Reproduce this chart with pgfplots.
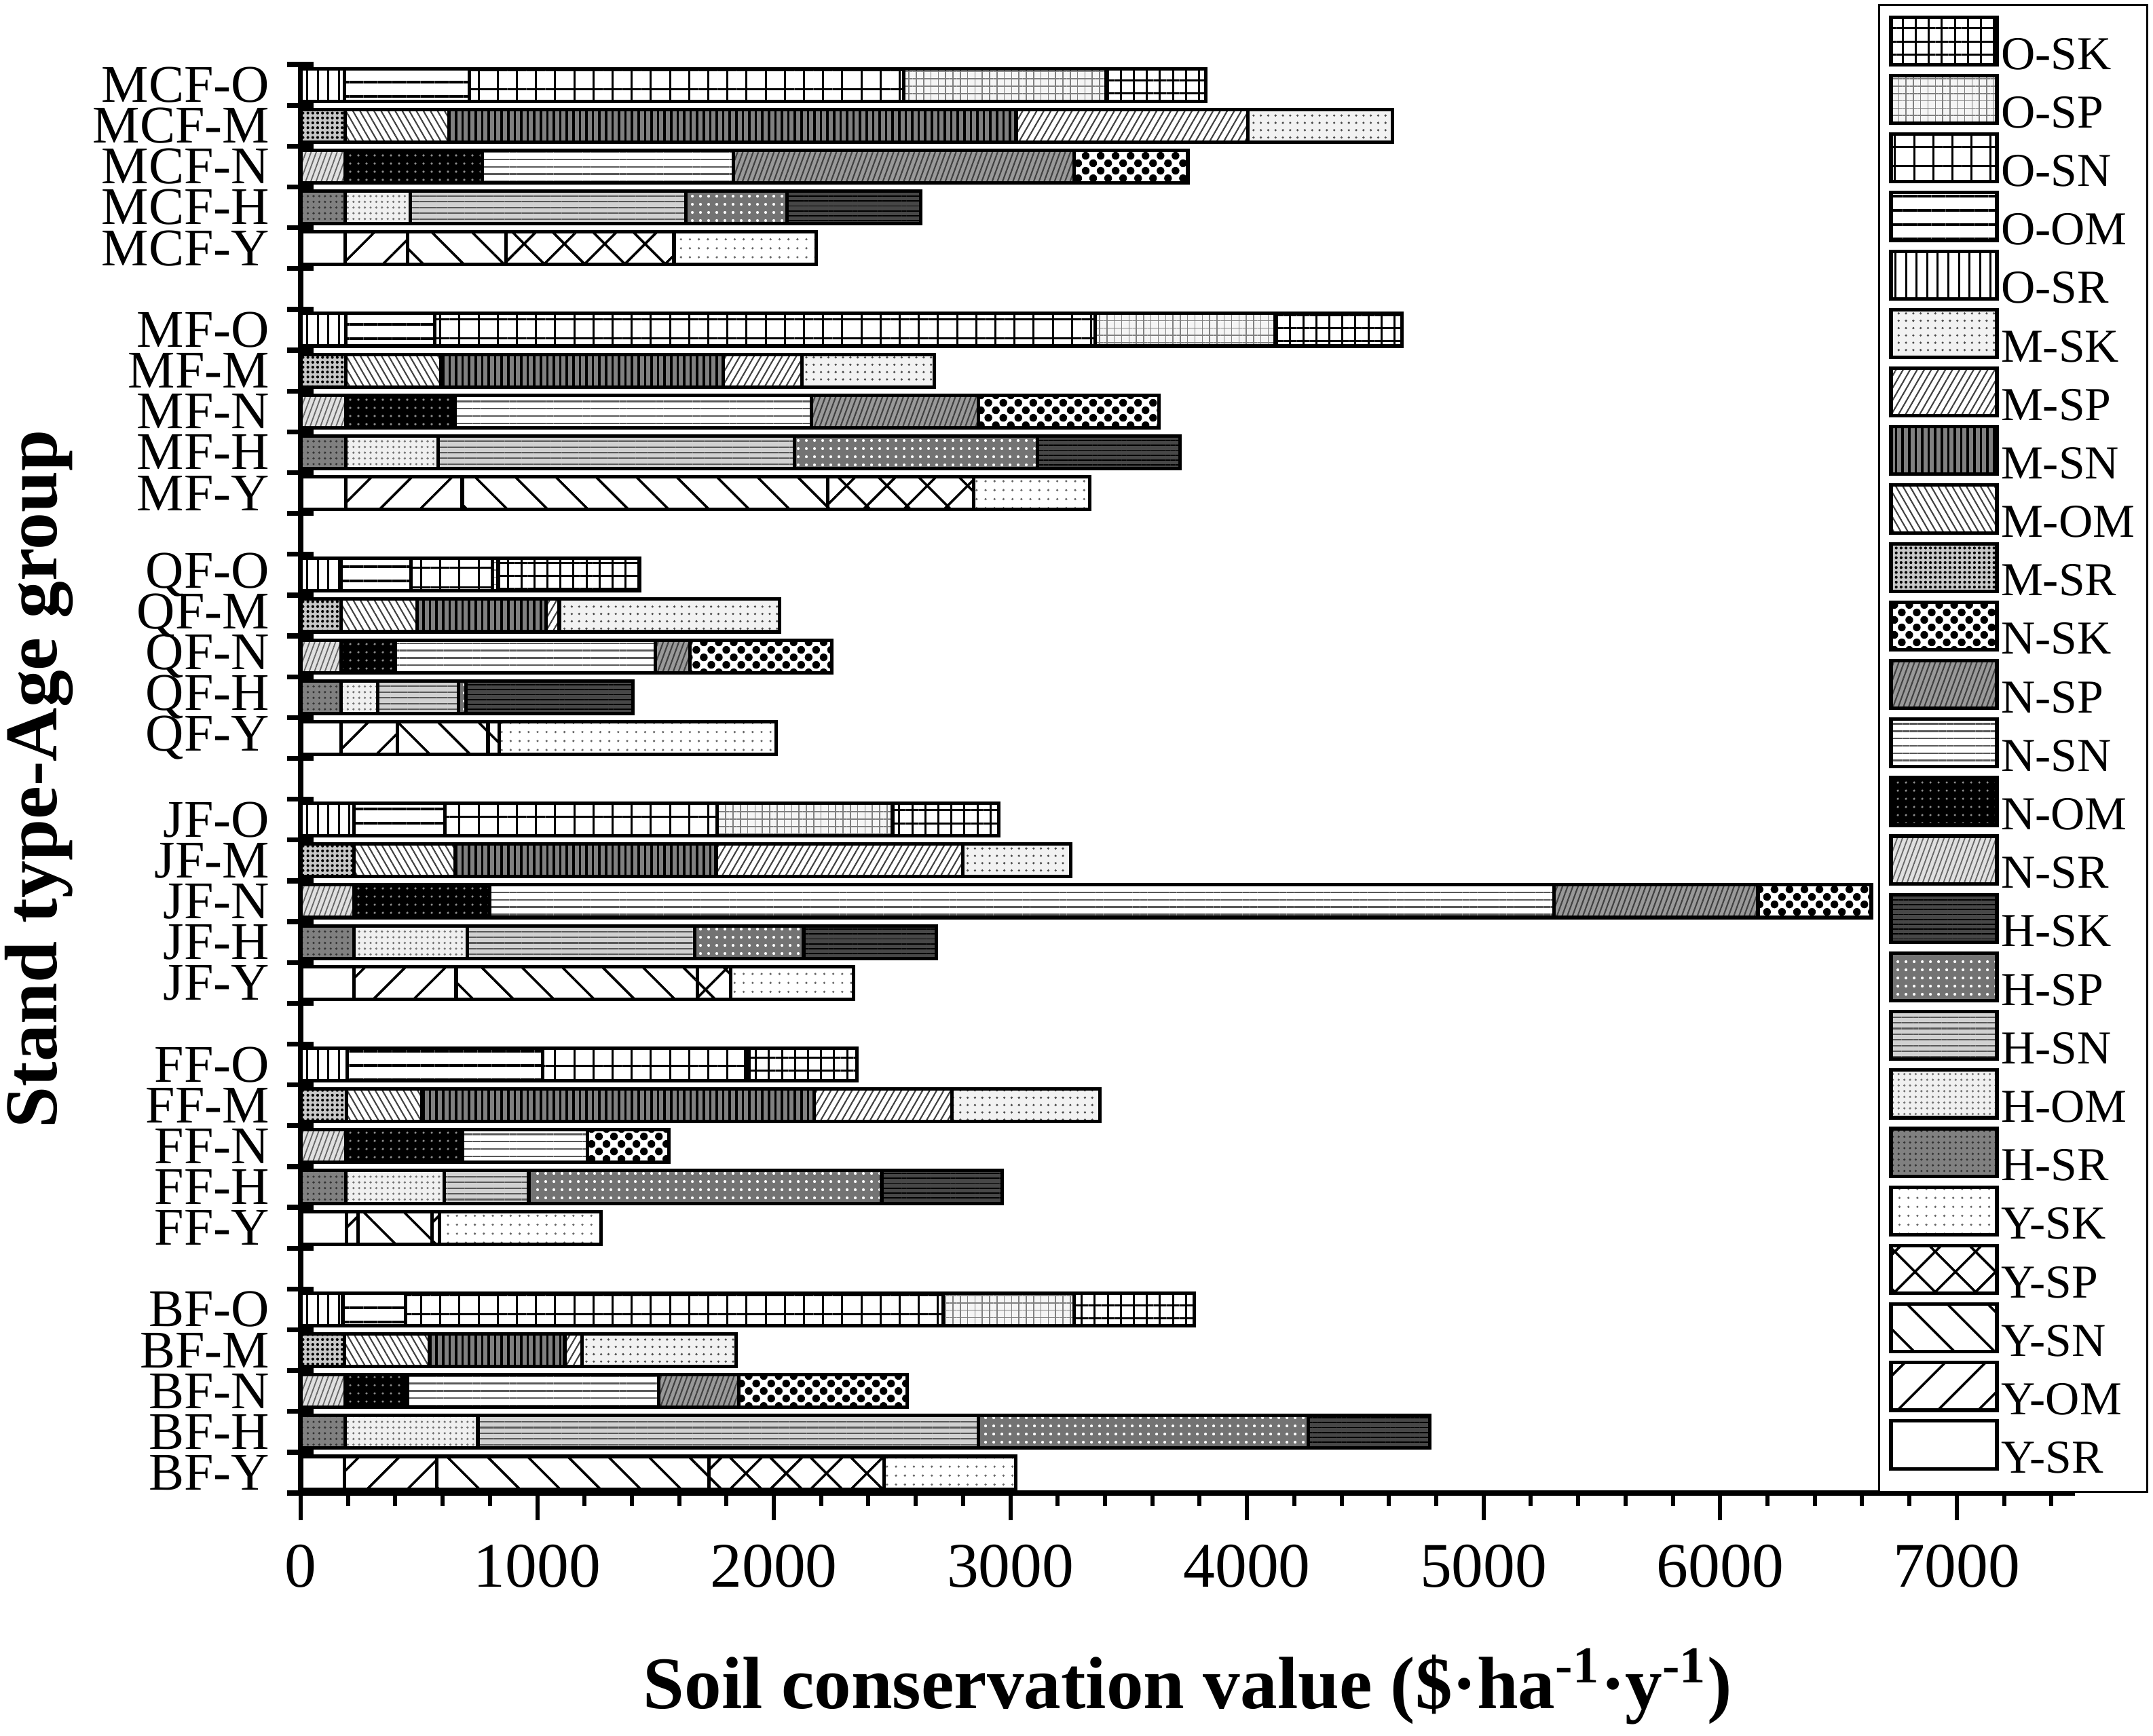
\documentclass[border=0pt]{standalone}
\usepackage{fontspec}
\setmainfont{Liberation Serif}
\usepackage{pgfplots}
\pgfplotsset{compat=1.18}
\usepackage{pgfplotstable}
\usetikzlibrary{patterns,patterns.meta}

\pgfplotstableread{
pos SR OM SN SP SK
0 185 391 1149 742 555
6 193 50 312 31 684
12 226 431 1019 142 519
18 172 236 384 48 1170
24 190 493 1545 617 490
30 187 266 416 709 602
}\Ytab
\pgfplotstableread{
pos SR OM SN SP SK
1 187 562 2117 1394 513
7 190 418 356 1492 509
13 226 479 961 460 561
19 172 154 340 32 706
25 190 390 1508 1026 603
31 187 276 1165 429 563
}\Htab
\pgfplotstableread{
pos SR OM SN SP SK
2 187 265 1062 339 710
8 190 495 526 0 346
14 226 574 4497 863 479
20 172 228 1100 145 600
26 190 462 1508 705 763
32 187 581 1060 1442 480
}\Ntab
\pgfplotstableread{
pos SR OM SN SP SK
3 185 360 571 73 652
9 193 319 1658 582 626
15 226 426 1104 1044 456
21 172 321 545 55 930
27 190 402 1193 335 559
33 187 440 2397 980 611
}\Mtab
\pgfplotstableread{
pos SR OM SN SP SK
4 178 266 2272 554 508
10 196 826 858 15 457
16 226 384 1149 743 448
22 172 294 345 24 599
28 190 376 2792 762 535
34 185 527 1838 855 421
}\Otab

\tikzset{
 bx/.style={draw=black, line width=0.85pt},
 Ysr/.style={bx, fill=white},
 Yom/.style={bx, preaction={fill=white}, pattern={Lines[angle=45,distance=7pt,line width=0.6pt]}, pattern color=black},
 Ysn/.style={bx, preaction={fill=white}, pattern={Lines[angle=-45,distance=7pt,line width=0.6pt]}, pattern color=black},
 Ysp/.style={bx, preaction={fill=white}, pattern={Hatch[angle=45,distance=7pt,line width=0.6pt]}, pattern color=black},
 Ysk/.style={bx, preaction={fill=white}, pattern={Dots[distance=2.2pt,radius=0.3pt]}, pattern color=black!60},
 Hsr/.style={bx, preaction={fill=black!50}, pattern={Dots[distance=1.4pt,radius=0.3pt]}, pattern color=black!80},
 Hom/.style={bx, preaction={fill=black!6}, pattern={Dots[distance=1.4pt,radius=0.3pt]}, pattern color=black!55},
 Hsn/.style={bx, preaction={fill=black!18}, pattern={Lines[angle=0,distance=1.4pt,line width=0.35pt]}, pattern color=black!65},
 Hsp/.style={bx, preaction={fill=black!55}, pattern={Dots[distance=2pt,radius=0.35pt]}, pattern color=white},
 Hsk/.style={bx, preaction={fill=black!72}, pattern={Lines[angle=0,distance=1.2pt,line width=0.3pt]}, pattern color=black},
 Nsr/.style={bx, preaction={fill=black!12}, pattern={Lines[angle=70,distance=1.2pt,line width=0.3pt]}, pattern color=black!60},
 Nom/.style={bx, preaction={fill=black}, pattern={Dots[distance=2pt,radius=0.3pt]}, pattern color=black!45},
 Nsn/.style={bx, preaction={fill=white}, pattern={Lines[angle=0,distance=1.8pt,line width=0.4pt]}, pattern color=black!65},
 Nsp/.style={bx, preaction={fill=black!40}, pattern={Lines[angle=70,distance=1.2pt,line width=0.35pt]}, pattern color=black!75},
 Nsk/.style={bx, preaction={fill=white}, pattern={Dots[distance=2.6pt,radius=0.95pt,angle=45]}, pattern color=black},
 Msr/.style={bx, preaction={fill=black!22}, pattern={Dots[distance=1.2pt,radius=0.35pt]}, pattern color=black},
 Mom/.style={bx, preaction={fill=white}, pattern={Lines[angle=-60,distance=1.5pt,line width=0.35pt]}, pattern color=black!75},
 Msn/.style={bx, preaction={fill=black!50}, pattern={Lines[angle=90,distance=1.6pt,line width=0.6pt]}, pattern color=black},
 Msp/.style={bx, preaction={fill=white}, pattern={Lines[angle=60,distance=1.5pt,line width=0.35pt]}, pattern color=black!75},
 Msk/.style={bx, preaction={fill=black!5}, pattern={Dots[distance=1.8pt,radius=0.3pt]}, pattern color=black!70},
 Osr/.style={bx, preaction={fill=white}, pattern={Lines[angle=90,distance=2.6pt,line width=0.5pt]}, pattern color=black},
 Oom/.style={bx, preaction={fill=white}, pattern={Lines[angle=0,distance=3.5pt,line width=0.6pt]}, pattern color=black},
 Osn/.style={bx, preaction={fill=white}, pattern={Hatch[angle=0,distance=4.7pt,line width=0.5pt]}, pattern color=black},
 Osp/.style={bx, preaction={fill=black!4}, pattern={Hatch[angle=0,distance=1.8pt,line width=0.25pt]}, pattern color=black!50},
 Osk/.style={bx, preaction={fill=white}, pattern={Hatch[angle=0,distance=3.2pt,line width=0.5pt]}, pattern color=black},
}

\pgfplotsset{
 base/.style={
  at={(0pt,0pt)}, anchor=south west,
  width=435.67pt, height=350.83pt, scale only axis,
  xmin=0, xmax=7500, ymin=-0.5, ymax=34.5,
  clip=false,
 },
 bars/.style={base, xbar stacked, bar width=0.8},
 hid/.style={bars, hide axis},
}

\begin{document}
\begin{tikzpicture}
\useasboundingbox (-73.83pt,-59.5pt) rectangle (454.83pt,366.67pt);

% axis A: Y bars + axes, ticks and labels
\begin{axis}[bars,
  axis x line*=bottom, axis y line*=left,
  axis line style={line width=1.3pt},
  xtick={0,1000,...,7000}, minor xtick={200,400,...,7400},
  tick align=outside, major tick length=6.7pt, minor tick length=3.2pt,
  xtick style={line width=1pt, black},
  ytick={0,1,2,3,4,6,7,8,9,10,12,13,14,15,16,18,19,20,21,22,24,25,26,27,28,30,31,32,33,34},
  yticklabels={BF-Y,BF-H,BF-N,BF-M,BF-O,FF-Y,FF-H,FF-N,FF-M,FF-O,JF-Y,JF-H,JF-N,JF-M,JF-O,QF-Y,QF-H,QF-N,QF-M,QF-O,MF-Y,MF-H,MF-N,MF-M,MF-O,MCF-Y,MCF-H,MCF-N,MCF-M,MCF-O},
  ytick style={draw=none},
  scaled x ticks=false,
  /pgf/number format/1000 sep={},
  /pgf/number format/assume math mode=true,
  xticklabel style={font=\fontsize{15.6}{18}\selectfont, inner sep=0pt, yshift=-5.8pt},
  yticklabel style={font=\fontsize{13}{15}\selectfont, inner sep=0pt, xshift=-0.8pt},
  xlabel={Soil conservation value (\$·ha\textsuperscript{-1}·y\textsuperscript{-1})},
  ylabel={Stand type-Age group},
  every axis x label/.style={at={(axis description cs:0.5,0)}, anchor=center, yshift=-47.5pt, font=\bfseries\fontsize{18.2}{22}\selectfont},
  every axis y label/.style={at={(axis description cs:0,0.5)}, anchor=center, xshift=-64.3pt, rotate=90, font=\bfseries\fontsize{18.3}{22}\selectfont},
]
\addplot[Ysr] table[x=SR,y=pos]{\Ytab};
\addplot[Yom] table[x=OM,y=pos]{\Ytab};
\addplot[Ysn] table[x=SN,y=pos]{\Ytab};
\addplot[Ysp] table[x=SP,y=pos]{\Ytab};
\addplot[Ysk] table[x=SK,y=pos]{\Ytab};
\end{axis}

% axis B: H bars + boundary ticks on y axis
\begin{axis}[bars,
  axis x line=none, axis y line*=left,
  axis line style={line width=1.3pt},
  xtick=\empty,
  ytick={-0.5,0.5,...,34.5}, yticklabels={},
  tick align=center, major tick length=6.5pt,
  ytick style={line width=1.2pt, black},
]
\addplot[Hsr] table[x=SR,y=pos]{\Htab};
\addplot[Hom] table[x=OM,y=pos]{\Htab};
\addplot[Hsn] table[x=SN,y=pos]{\Htab};
\addplot[Hsp] table[x=SP,y=pos]{\Htab};
\addplot[Hsk] table[x=SK,y=pos]{\Htab};
\end{axis}

\begin{axis}[hid]
\addplot[Nsr] table[x=SR,y=pos]{\Ntab};
\addplot[Nom] table[x=OM,y=pos]{\Ntab};
\addplot[Nsn] table[x=SN,y=pos]{\Ntab};
\addplot[Nsp] table[x=SP,y=pos]{\Ntab};
\addplot[Nsk] table[x=SK,y=pos]{\Ntab};
\end{axis}

\begin{axis}[hid]
\addplot[Msr] table[x=SR,y=pos]{\Mtab};
\addplot[Mom] table[x=OM,y=pos]{\Mtab};
\addplot[Msn] table[x=SN,y=pos]{\Mtab};
\addplot[Msp] table[x=SP,y=pos]{\Mtab};
\addplot[Msk] table[x=SK,y=pos]{\Mtab};
\end{axis}

\begin{axis}[hid]
\addplot[Osr] table[x=SR,y=pos]{\Otab};
\addplot[Oom] table[x=OM,y=pos]{\Otab};
\addplot[Osn] table[x=SN,y=pos]{\Otab};
\addplot[Osp] table[x=SP,y=pos]{\Otab};
\addplot[Osk] table[x=SK,y=pos]{\Otab};
\end{axis}

% legend
\begin{axis}[base, hide axis,
  legend image code/.code={\draw[#1] (0pt,-2.0pt) rectangle (26pt,9.7pt);},
  legend style={at={(axis description cs:0,1)}, anchor=north west, xshift=387.3pt, yshift=14.8pt,
     draw=black, line width=0.5pt, inner sep=2.5pt, row sep=-0.95pt,
     font=\fontsize{11.6}{13}\selectfont, nodes={inner sep=0.6pt}, cells={anchor=west}},
]
\addlegendimage{Osk}\addlegendentry{O-SK}
\addlegendimage{Osp}\addlegendentry{O-SP}
\addlegendimage{Osn}\addlegendentry{O-SN}
\addlegendimage{Oom}\addlegendentry{O-OM}
\addlegendimage{Osr}\addlegendentry{O-SR}
\addlegendimage{Msk}\addlegendentry{M-SK}
\addlegendimage{Msp}\addlegendentry{M-SP}
\addlegendimage{Msn}\addlegendentry{M-SN}
\addlegendimage{Mom}\addlegendentry{M-OM}
\addlegendimage{Msr}\addlegendentry{M-SR}
\addlegendimage{Nsk}\addlegendentry{N-SK}
\addlegendimage{Nsp}\addlegendentry{N-SP}
\addlegendimage{Nsn}\addlegendentry{N-SN}
\addlegendimage{Nom}\addlegendentry{N-OM}
\addlegendimage{Nsr}\addlegendentry{N-SR}
\addlegendimage{Hsk}\addlegendentry{H-SK}
\addlegendimage{Hsp}\addlegendentry{H-SP}
\addlegendimage{Hsn}\addlegendentry{H-SN}
\addlegendimage{Hom}\addlegendentry{H-OM}
\addlegendimage{Hsr}\addlegendentry{H-SR}
\addlegendimage{Ysk}\addlegendentry{Y-SK}
\addlegendimage{Ysp}\addlegendentry{Y-SP}
\addlegendimage{Ysn}\addlegendentry{Y-SN}
\addlegendimage{Yom}\addlegendentry{Y-OM}
\addlegendimage{Ysr}\addlegendentry{Y-SR}
\end{axis}
\end{tikzpicture}
\end{document}
